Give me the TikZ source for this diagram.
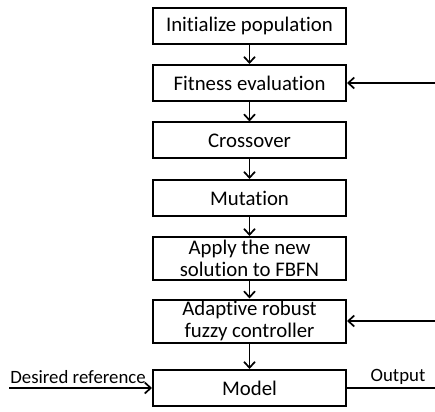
\documentclass[tikz,border=0pt]{standalone}
\usepackage{fontspec}
\setmainfont[Ligatures=NoCommon]{Carlito}
\usetikzlibrary{arrows.meta}
\tikzset{
  stepbox/.style={draw, line width=2pt, minimum width=193pt, minimum height=36pt, inner sep=0pt, align=center, font=\fontsize{20.8}{22.5}\selectfont},
  tallbox/.style={stepbox, minimum height=43pt},
  arr/.style={line width=1.7pt, -{Straight Barb[length=6pt,width=11pt,line width=1.7pt]}},
  lbl/.style={font=\fontsize{18.8}{20}\selectfont, inner sep=0pt}
}
\begin{document}
\begin{tikzpicture}[x=1pt,y=-1pt]
\useasboundingbox (0,0) rectangle (435,411);
\node[stepbox] (b1) at (249.5,26) {Initialize population};
\node[stepbox] (b2) at (249.5,83) {Fitness evaluation};
\node[stepbox] (b3) at (249.5,140.5) {Crossover};
\node[stepbox] (b4) at (249.5,198) {Mutation};
\node[tallbox] (b5) at (249.5,258.5) {Apply the new\\solution to FBFN};
\node[tallbox] (b6) at (249.5,321) {Adaptive robust\\fuzzy controller};
\node[stepbox] (b7) at (249.5,388) {Model};
\draw[arr] (b1) -- (b2);
\draw[arr] (b2) -- (b3);
\draw[arr] (b3) -- (b4);
\draw[arr] (b4) -- (b5);
\draw[arr] (b5) -- (b6);
\draw[arr] (b6) -- (b7);
\coordinate (r2) at (435,83);
\coordinate (r6) at (435,321);
\coordinate (din) at (9,388);
\coordinate (dout) at (435,388);
\draw[arr] (r2) -- (b2.east);
\draw[arr] (r6) -- (b6.east);
\draw[arr] (din) -- (b7.west);
\draw[line width=1.7pt] (b7.east) -- (dout);
\node[lbl] (ldes) at (78,377) {Desired reference};
\node[lbl] (lout) at (398,377) {Output};
\end{tikzpicture}
\end{document}
